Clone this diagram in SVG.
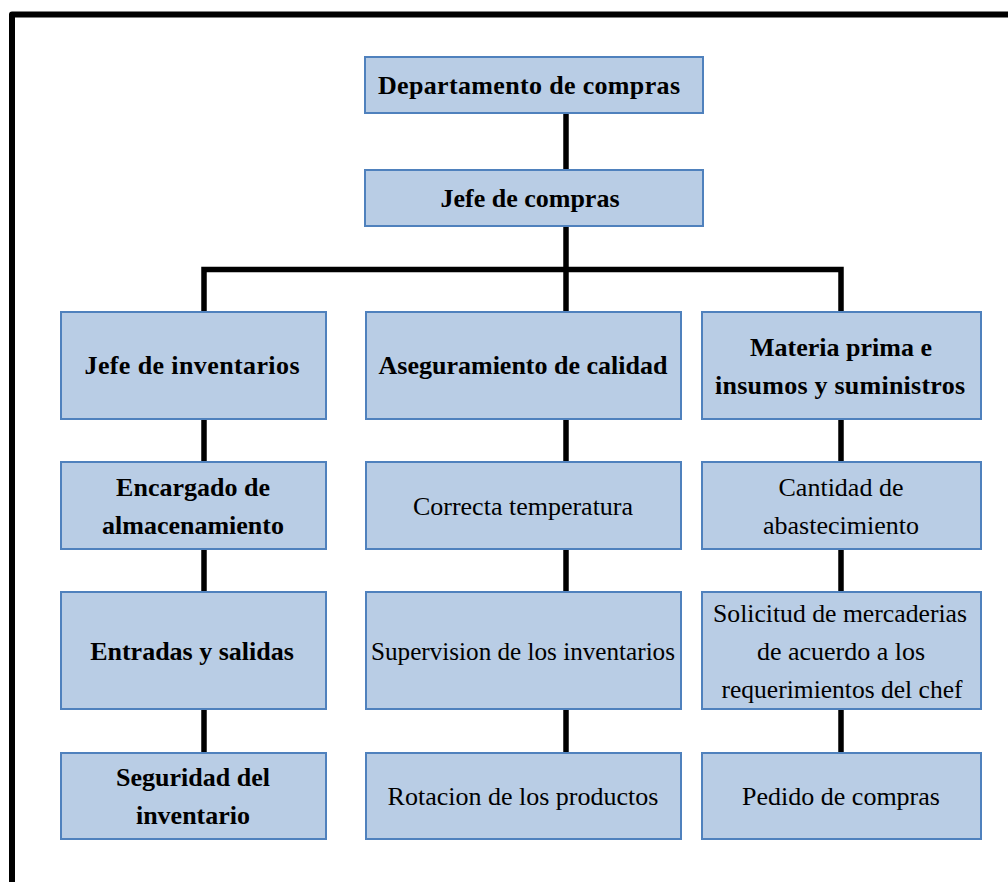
<svg xmlns="http://www.w3.org/2000/svg" width="1008" height="882" viewBox="0 0 1008 882">
<style>
.box{fill:#B9CDE5;stroke:#4F81BD;stroke-width:2}
.t{font-family:"Liberation Serif","Times New Roman",serif;font-size:26px;fill:#000;text-anchor:middle}
.b{font-weight:bold}
.ln{stroke:#000;stroke-width:5.5;fill:none}
</style>
<rect width="1008" height="882" fill="#fff"/>
<path d="M12,890 V14.5 H1012" fill="none" stroke="#000" stroke-width="6" stroke-linejoin="round"/>
<g id="connectors" class="ln">
<line x1="566" y1="113" x2="566" y2="169"/>
<line x1="566" y1="226" x2="566" y2="312"/>
<path d="M204,312 V269.5 H841 V312" stroke-linejoin="miter"/>
<line x1="204" y1="419" x2="204" y2="462"/>
<line x1="204" y1="549" x2="204" y2="592"/>
<line x1="204" y1="709" x2="204" y2="753"/>
<line x1="566" y1="419" x2="566" y2="462"/>
<line x1="566" y1="549" x2="566" y2="592"/>
<line x1="566" y1="709" x2="566" y2="753"/>
<line x1="841" y1="419" x2="841" y2="462"/>
<line x1="841" y1="549" x2="841" y2="592"/>
<line x1="841" y1="709" x2="841" y2="753"/>
</g>
<g id="n-departamento"><rect class="box" x="365" y="57" width="338" height="56"/><text class="t b" x="529" y="94" textLength="302" lengthAdjust="spacing">Departamento de compras</text></g>
<g id="n-jefe-compras"><rect class="box" x="365" y="170" width="338" height="56"/><text class="t b" x="530" y="207">Jefe de compras</text></g>

<g id="n-jefe-inventarios"><rect class="box" x="61" y="312" width="265" height="107"/><text class="t b" x="192" y="374" textLength="215" lengthAdjust="spacing">Jefe de inventarios</text></g>
<g id="n-aseguramiento"><rect class="box" x="366" y="312" width="315" height="107"/><text class="t b" x="523" y="374">Aseguramiento de calidad</text></g>
<g id="n-materia"><rect class="box" x="702" y="312" width="279" height="107"/><text class="t b" x="841" y="355.5">Materia prima e</text><text class="t b" x="840" y="393.5" textLength="250" lengthAdjust="spacing">insumos y suministros</text></g>

<g id="n-encargado"><rect class="box" x="61" y="462" width="265" height="87"/><text class="t b" x="193" y="495.5">Encargado de</text><text class="t b" x="193" y="533.5">almacenamiento</text></g>
<g id="n-correcta"><rect class="box" x="366" y="462" width="315" height="87"/><text class="t" x="523" y="515">Correcta temperatura</text></g>
<g id="n-cantidad"><rect class="box" x="702" y="462" width="279" height="87"/><text class="t" x="841" y="495.5">Cantidad de</text><text class="t" x="841" y="533.5">abastecimiento</text></g>

<g id="n-entradas"><rect class="box" x="61" y="592" width="265" height="117"/><text class="t b" x="192" y="660">Entradas y salidas</text></g>
<g id="n-supervision"><rect class="box" x="366" y="592" width="315" height="117"/><text class="t" x="523" y="660" textLength="304" lengthAdjust="spacingAndGlyphs">Supervision de los inventarios</text></g>
<g id="n-solicitud"><rect class="box" x="702" y="592" width="279" height="117"/><text class="t" x="840" y="622" textLength="254" lengthAdjust="spacingAndGlyphs">Solicitud de mercaderias</text><text class="t" x="841" y="660">de acuerdo a los</text><text class="t" x="842" y="698" textLength="241" lengthAdjust="spacingAndGlyphs">requerimientos del chef</text></g>

<g id="n-seguridad"><rect class="box" x="61" y="753" width="265" height="86"/><text class="t b" x="193" y="786">Seguridad del</text><text class="t b" x="193" y="824">inventario</text></g>
<g id="n-rotacion"><rect class="box" x="366" y="753" width="315" height="86"/><text class="t" x="523" y="805">Rotacion de los productos</text></g>
<g id="n-pedido"><rect class="box" x="702" y="753" width="279" height="86"/><text class="t" x="841" y="805">Pedido de compras</text></g>
</svg>
